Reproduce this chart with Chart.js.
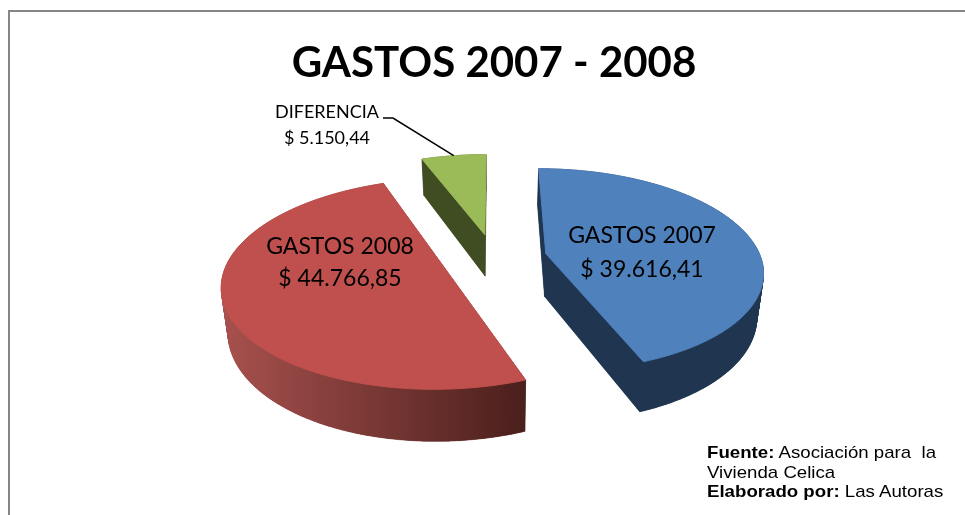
<!DOCTYPE html>
<html lang="es">
<head>
<meta charset="utf-8">
<title>Gastos 2007 - 2008</title>
<script src="https://cdn.jsdelivr.net/npm/chart.js@4/dist/chart.umd.min.js"></script>
<style>
    html, body { margin: 0; padding: 0; background: #fff; overflow: hidden; }
    #wrap { position: relative; width: 965px; height: 515px; }
    #note {
        position: absolute; left: 707px; top: 443px;
        font: 17px/19.5px "Liberation Sans", Arial, sans-serif; color: #000; white-space: pre;
        transform: scaleX(1.097); transform-origin: left top;
    }
</style>
</head>
<body>
<div id="wrap">
    <canvas id="gastosChart" width="965" height="515"></canvas>
    <div id="note"><b>Fuente:</b> Asociación para  la
Vivienda Celica
<b>Elaborado por:</b> Las Autoras</div>
</div>
<script>
const categories = ['GASTOS 2007', 'GASTOS 2008', 'DIFERENCIA'];
const values = [39616.41, 44766.85, 5150.44];
const valueText = ['$ 39.616,41', '$ 44.766,85', '$ 5.150,44'];
const topColors = ['#4f81bd', '#c0504d', '#9bbb59'];
const sideColors = ['#1f3550', '#a8514e', '#404c22'];
const sideEndColors = ['#1f3550', '#4a1f1c', '#404c22'];

// 3D look: tilt, perspective and thickness of the disc
const TILT = 0.464;
const PERSP = 0.000744;
const DEPTH = 43;
const BASE_SHRINK = 0.975;

function project(arc, u, v, bottom) {
    const s = 1 / (1 - PERSP * v);
    const x = u * s * (bottom ? BASE_SHRINK : 1);
    const y = TILT * v * s + (bottom ? DEPTH * s : 0);
    return { x: arc.x + x, y: arc.y + y };
}

// outline of one slice in disc coordinates, apex first
function sliceOutline(arc) {
    const mid = (arc.startAngle + arc.endAngle) / 2;
    const ox = Math.cos(mid) * arc.options.offset;
    const oy = Math.sin(mid) * arc.options.offset;
    const rim = [];
    const steps = Math.ceil((arc.endAngle - arc.startAngle) * 90);
    for (let i = 0; i <= steps; i++) {
        const a = arc.startAngle + (arc.endAngle - arc.startAngle) * i / steps;
        rim.push({ u: ox + Math.cos(a) * arc.outerRadius, v: oy + Math.sin(a) * arc.outerRadius });
    }
    return { apex: { u: ox, v: oy }, rim, mid: { u: ox + Math.cos(mid) * arc.outerRadius, v: oy + Math.sin(mid) * arc.outerRadius } };
}

function tracePoly(ctx, pts) {
    ctx.beginPath();
    pts.forEach((p, i) => (i ? ctx.lineTo(p.x, p.y) : ctx.moveTo(p.x, p.y)));
    ctx.closePath();
}

function drawSlice(ctx, arc, i) {
    const shape = sliceOutline(arc);
    const top = [shape.apex, ...shape.rim].map(p => project(arc, p.u, p.v, false));
    const base = [shape.apex, ...shape.rim].map(p => project(arc, p.u, p.v, true));
    const xs = top.concat(base).map(p => p.x);

    const side = ctx.createLinearGradient(Math.min(...xs), 0, Math.max(...xs), 0);
    side.addColorStop(0, sideColors[i]);
    side.addColorStop(1, sideEndColors[i]);
    ctx.fillStyle = side;
    ctx.strokeStyle = side;
    ctx.lineWidth = 0.5;

    // walls, then the top face over them
    for (let k = 0; k < top.length; k++) {
        const n = (k + 1) % top.length;
        tracePoly(ctx, [top[k], top[n], base[n], base[k]]);
        ctx.fill();
        ctx.stroke();
    }
    tracePoly(ctx, base);
    ctx.fill();

    // the stroke covers the wall seams along the far rim
    tracePoly(ctx, top);
    ctx.fillStyle = topColors[i];
    ctx.strokeStyle = topColors[i];
    ctx.lineWidth = 1;
    ctx.fill();
    ctx.stroke();
}

const disc3d = {
    id: 'disc3d',
    beforeDatasetDraw(chart, args) {
        const ctx = chart.ctx;
        const arcs = args.meta.data;
        // far slice first
        [2, 0, 1].forEach(i => drawSlice(ctx, arcs[i], i));

        ctx.fillStyle = '#000';
        ctx.textAlign = 'center';
        ctx.textBaseline = 'middle';
        ctx.font = '23px Lato, sans-serif';
        ctx.fillText(categories[0], 642, 236);
        ctx.fillText(valueText[0], 642, 270);
        ctx.fillText(categories[1], 340, 247);
        ctx.fillText(valueText[1], 340, 279);
        ctx.font = '18px Lato, sans-serif';
        ctx.fillText(categories[2], 327, 112);
        ctx.fillText(valueText[2], 327, 138);

        // leader line of the small slice
        const tip = sliceOutline(arcs[2]).mid;
        const end = project(arcs[2], tip.u, tip.v, false);
        ctx.strokeStyle = '#000';
        ctx.lineWidth = 1.5;
        ctx.beginPath();
        ctx.moveTo(383, 118);
        ctx.lineTo(393, 118);
        ctx.lineTo(end.x, end.y);
        ctx.stroke();
        return false;
    },
    afterDraw(chart) {
        // frame only has top and left sides in the picture
        const ctx = chart.ctx;
        ctx.fillStyle = '#868686';
        ctx.fillRect(8, 10, 957, 2);
        ctx.fillRect(8, 10, 2, 505);
    }
};

new Chart(document.getElementById('gastosChart'), {
    type: 'pie',
    plugins: [disc3d],
    data: {
        labels: categories,
        datasets: [{
            data: values,
            backgroundColor: topColors,
            borderWidth: 0,
            offset: 53
        }]
    },
    options: {
        responsive: false,
        animation: false,
        radius: 215,
        layout: { padding: { left: 23, top: 38, bottom: 87.4 } },
        plugins: {
            legend: { display: false },
            tooltip: { enabled: false },
            title: {
                display: true,
                text: 'GASTOS 2007 - 2008',
                color: '#000',
                padding: 0,
                font: { family: 'Lato, sans-serif', size: 42, weight: 'bold' }
            }
        }
    }
});
</script>
</body>
</html>
